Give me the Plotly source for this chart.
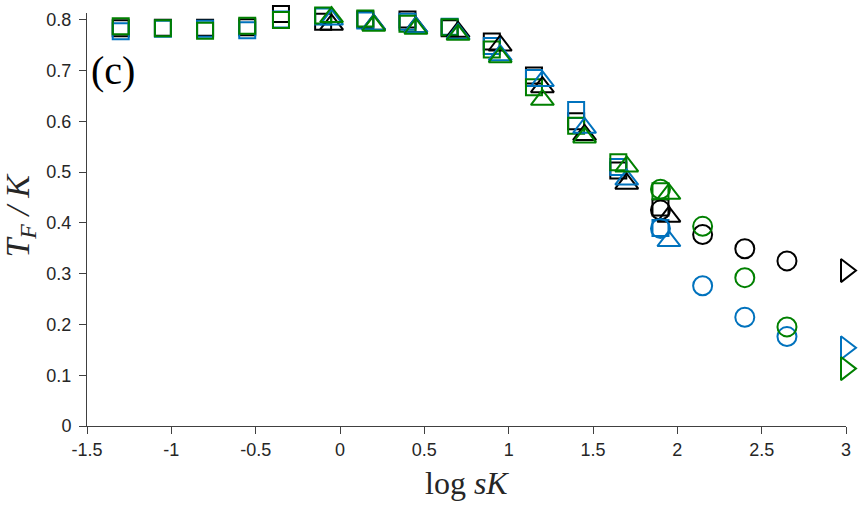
import plotly.graph_objects as go

# ---- data ----
x_sq = [-1.3, -1.05, -0.8, -0.55, -0.35, -0.1, 0.15, 0.4, 0.65, 0.9, 1.15, 1.4, 1.65, 1.9]
black_sq = [0.783, 0.784, 0.784, 0.785, 0.811, 0.796, 0.800, 0.800, 0.783, 0.757, 0.690, 0.600, 0.503, 0.430]
blue_sq = [0.777, 0.782, 0.782, 0.779, 0.800, 0.806, 0.798, 0.796, 0.786, 0.748, 0.685, 0.622, 0.510, 0.390]
green_sq = [0.787, 0.783, 0.778, 0.788, 0.799, 0.808, 0.802, 0.792, 0.785, 0.741, 0.667, 0.591, 0.519, 0.462]

x_tri = [-0.05, 0.2, 0.45, 0.7, 0.95, 1.2, 1.45, 1.7, 1.95]
black_tri = [0.790, 0.790, 0.785, 0.776, 0.749, 0.667, 0.573, 0.477, 0.412]
blue_tri = [0.800, 0.790, 0.785, 0.772, 0.730, 0.679, 0.587, 0.485, 0.364]
green_tri = [0.805, 0.788, 0.782, 0.770, 0.726, 0.642, 0.568, 0.511, 0.457]

x_circ = [1.9, 2.15, 2.4, 2.65]
black_circ = [0.425, 0.377, 0.349, 0.325]
blue_circ = [0.389, 0.276, 0.214, 0.176]
green_circ = [0.466, 0.393, 0.292, 0.195]

x_right = [3.0]
black_right = [0.306]
blue_right = [0.154]
green_right = [0.113]

x_ticks = [-1.5, -1, -0.5, 0, 0.5, 1, 1.5, 2, 2.5, 3]
x_tick_labels = ["-1.5", "-1", "-0.5", "0", "0.5", "1", "1.5", "2", "2.5", "3"]
y_ticks = [0, 0.1, 0.2, 0.3, 0.4, 0.5, 0.6, 0.7, 0.8]
y_tick_labels = ["0", "0.1", "0.2", "0.3", "0.4", "0.5", "0.6", "0.7", "0.8"]

# ---- styles ----
BLACK = "#000000"
BLUE = "#0072BD"
GREEN = "#008000"

fig = go.Figure()

def add(xs, ys, color, symbol, size):
    fig.add_trace(go.Scatter(
        x=xs, y=ys, mode="markers", cliponaxis=False, showlegend=False,
        hoverinfo="skip",
        marker=dict(symbol=symbol, size=size, color="rgba(255,255,255,0)",
                    line=dict(color=color, width=2)),
    ))

groups = [
    (x_sq, [black_sq, blue_sq, green_sq], "square", 16),
    (x_tri, [black_tri, blue_tri, green_tri], "triangle-up", 20),
    (x_circ, [black_circ, blue_circ, green_circ], "circle", 19),
    (x_right, [black_right, blue_right, green_right], "triangle-right", 20),
]
for xs, series, sym, sz in groups:
    for ys, col in zip(series, [BLACK, BLUE, GREEN]):
        add(xs, ys, col, sym, sz)

axis_common = dict(
    showline=True, linecolor="#404040", linewidth=1,
    ticks="outside", ticklen=7, tickwidth=1, tickcolor="#404040",
    showgrid=False, zeroline=False, mirror=False,
    tickfont=dict(family="Liberation Sans, Arial, sans-serif", size=18, color="#262626"),
)

fig.update_layout(
    width=863, height=505,
    margin=dict(l=87, r=17, t=10, b=79),
    plot_bgcolor="white", paper_bgcolor="white",
    xaxis=dict(range=[-1.5, 3], tickvals=x_ticks, ticktext=x_tick_labels, **axis_common),
    yaxis=dict(range=[0, 0.813], tickvals=y_ticks, ticktext=y_tick_labels,
               ticklabelstandoff=4, **axis_common),
    annotations=[
        dict(text="log <i>sK</i>", xref="paper", yref="paper", x=0.5, y=-0.138,
             xanchor="center", yanchor="middle", showarrow=False,
             font=dict(family="Liberation Serif, serif", size=32, color="#262626")),
        dict(text="<i>T</i><sub><i>F</i></sub><i> / K</i>", xref="paper", yref="paper",
             x=-0.088, y=0.51, xanchor="center", yanchor="middle", textangle=-90,
             showarrow=False,
             font=dict(family="Liberation Serif, serif", size=34, color="#262626")),
        dict(text="(c)", xref="paper", yref="paper", x=0.034, y=0.861,
             xanchor="center", yanchor="middle", showarrow=False,
             font=dict(family="Liberation Serif, serif", size=40, color="#000000")),
    ],
)

fig.write_html("out.html")
